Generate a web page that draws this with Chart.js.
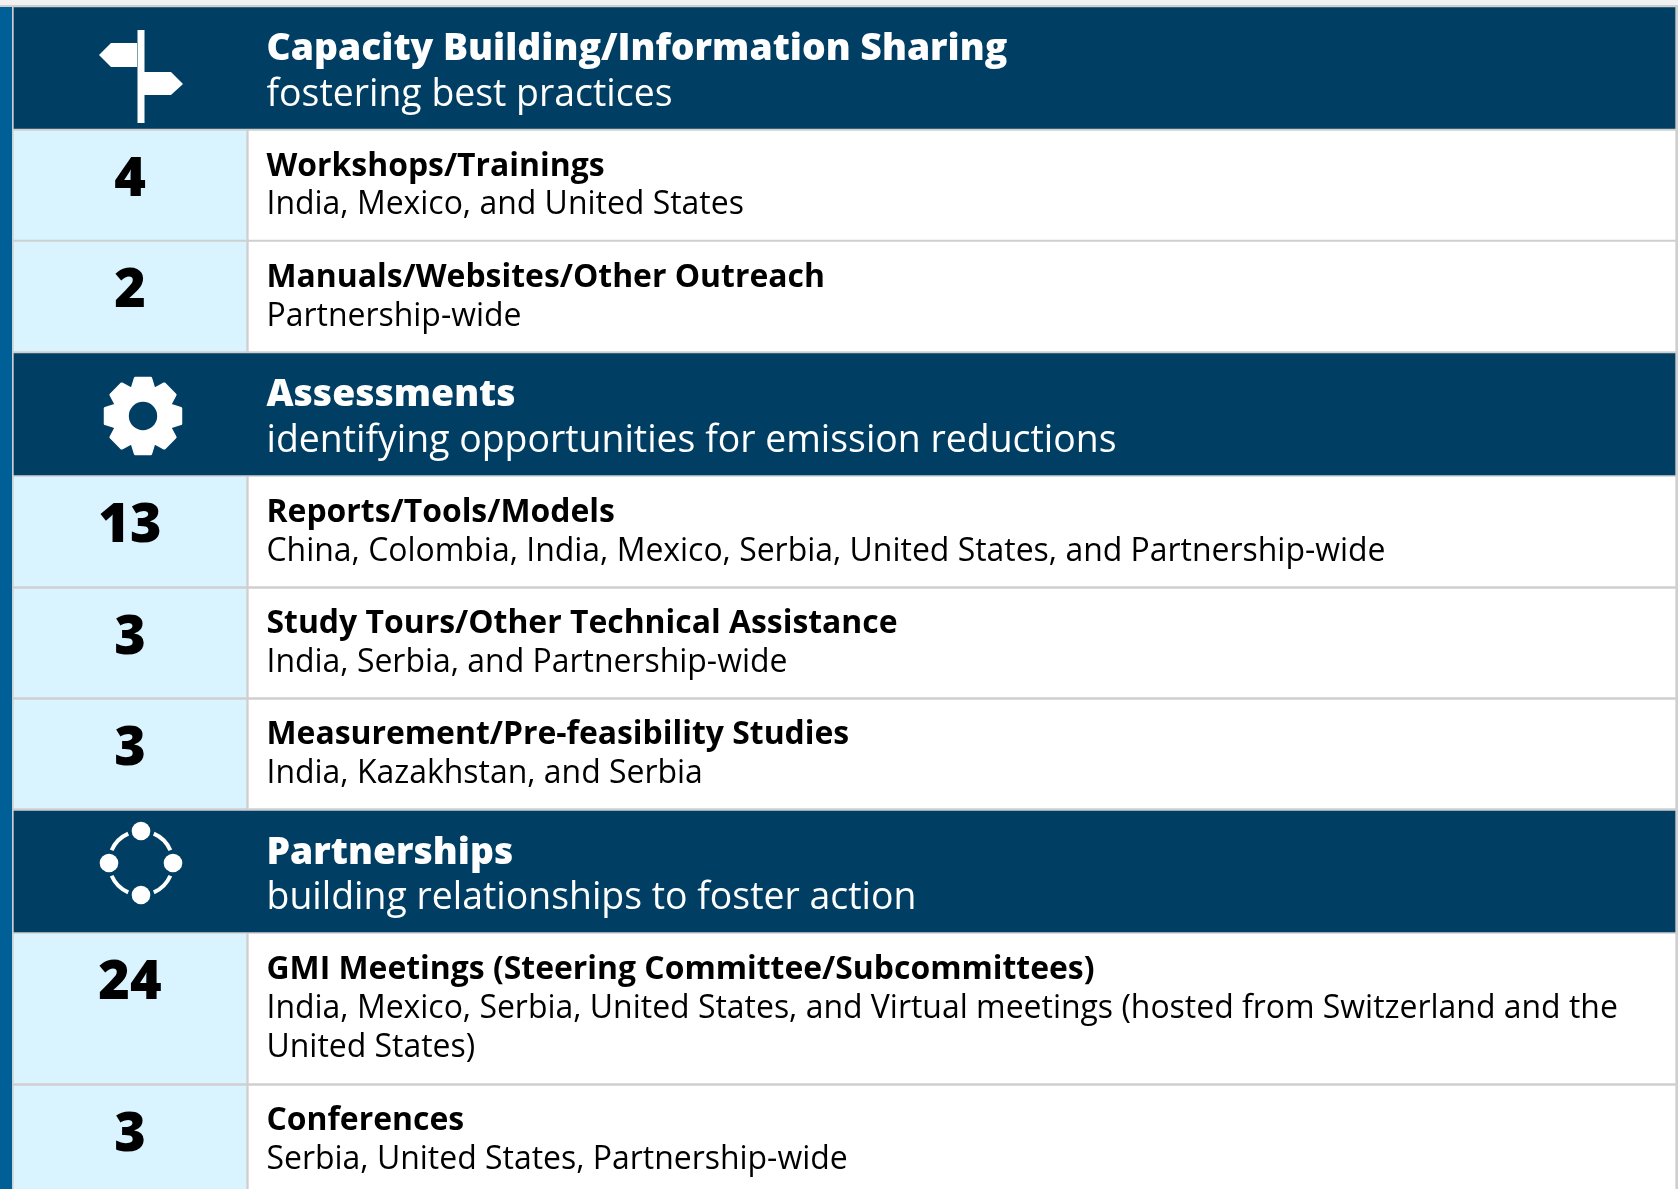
<!DOCTYPE html>
<html>
<head>
<meta charset="utf-8">
<script src="https://cdn.jsdelivr.net/npm/chart.js@4"></script>
<style>
html, body { margin: 0; padding: 0; background: #fff; }
#wrap { position: absolute; left: 0; top: 0; width: 1678px; height: 1189px; }
</style>
</head>
<body>
<div id="wrap"><canvas id="table"></canvas></div>
<script>
// row tops and bottoms in picture pixels, the y axis runs 0..1189
var rowKinds = ['head', 'row', 'row', 'head', 'row', 'row', 'row', 'head', 'row', 'row'];
var rowTops = [7.5, 131, 242, 353.5, 477, 589, 700, 811, 934, 1086];
var rowBottoms = [128.5, 239.5, 351, 475, 586, 697, 808, 932, 1083, 1189];
var counts = ['', '4', '2', '', '13', '3', '3', '', '24', '3'];
var titles = [
    'Capacity Building/Information Sharing',
    'Workshops/Trainings',
    'Manuals/Websites/Other Outreach',
    'Assessments',
    'Reports/Tools/Models',
    'Study Tours/Other Technical Assistance',
    'Measurement/Pre-feasibility Studies',
    'Partnerships',
    'GMI Meetings (Steering Committee/Subcommittees)',
    'Conferences'
];
var details = [
    ['fostering best practices'],
    ['India, Mexico, and United States'],
    ['Partnership-wide'],
    ['identifying opportunities for emission reductions'],
    ['China, Colombia, India, Mexico, Serbia, United States, and Partnership-wide'],
    ['India, Serbia, and Partnership-wide'],
    ['India, Kazakhstan, and Serbia'],
    ['building relationships to foster action'],
    ['India, Mexico, Serbia, United States, and Virtual meetings (hosted from Switzerland and the', 'United States)'],
    ['Serbia, United States, Partnership-wide']
];

var NAVY = '#003f63';
var PALE = '#d9f3ff';
var EDGE = '#cfcfcf';
var SIDE = '#005f96';
var FONT = '"Open Sans"';

function barsFor(kind, x0, x1) {
    var out = [];
    rowKinds.forEach(function(k, i) {
        if (k === kind) {
            out.push({ x: [x0, x1], y: (rowTops[i] + rowBottoms[i]) / 2 });
        }
    });
    return out;
}

// Bars are floating on a linear y axis, each one as tall as its row
var rowBars = {
    id: 'rowBars',
    beforeDatasetsDraw: function(chart) {
        var y = chart.scales.y;
        chart.data.datasets.forEach(function(ds, d) {
            chart.getDatasetMeta(d).data.forEach(function(el, n) {
                var i = ds.rowIndex[n];
                var top = y.getPixelForValue(rowTops[i]);
                var bottom = y.getPixelForValue(rowBottoms[i]);
                el.y = (top + bottom) / 2;
                el.height = bottom - top;
            });
        });
    }
};

function drawSign(ctx, cx, cy) {
    ctx.fillStyle = '#fff';
    ctx.fillRect(cx - 3.5, cy - 38, 7, 93);
    ctx.beginPath();
    ctx.moveTo(cx - 4, cy - 25);
    ctx.lineTo(cx - 30, cy - 25);
    ctx.lineTo(cx - 42, cy - 13);
    ctx.lineTo(cx - 30, cy - 1);
    ctx.lineTo(cx - 4, cy - 1);
    ctx.closePath();
    ctx.fill();
    ctx.beginPath();
    ctx.moveTo(cx + 3, cy + 4);
    ctx.lineTo(cx + 30, cy + 4);
    ctx.lineTo(cx + 42, cy + 16);
    ctx.lineTo(cx + 30, cy + 27);
    ctx.lineTo(cx + 3, cy + 27);
    ctx.closePath();
    ctx.fill();
}

function drawGear(ctx, cx, cy) {
    ctx.fillStyle = '#fff';
    ctx.strokeStyle = '#fff';
    ctx.lineWidth = 3;
    ctx.lineJoin = 'round';
    ctx.beginPath();
    for (var t = 0; t < 8; t++) {
        var a = t * Math.PI / 4 - Math.PI / 2;
        var steps = [[-0.39, 29], [-0.2, 38.5], [0.2, 38.5], [0.39, 29]];
        steps.forEach(function(s) {
            ctx.lineTo(cx + Math.cos(a + s[0]) * s[1], cy + Math.sin(a + s[0]) * s[1]);
        });
    }
    ctx.closePath();
    ctx.fill();
    ctx.stroke();
    ctx.fillStyle = NAVY;
    ctx.beginPath();
    ctx.arc(cx, cy, 14.2, 0, Math.PI * 2);
    ctx.fill();
}

function drawRing(ctx, cx, cy) {
    var r = 32;
    ctx.strokeStyle = '#fff';
    ctx.lineWidth = 4;
    ctx.fillStyle = '#fff';
    for (var t = 0; t < 4; t++) {
        var a = t * Math.PI / 2;
        ctx.beginPath();
        ctx.arc(cx, cy, r, a + 0.41, a + Math.PI / 2 - 0.41);
        ctx.stroke();
        ctx.beginPath();
        ctx.arc(cx + Math.cos(a) * r, cy + Math.sin(a) * r, 9.3, 0, Math.PI * 2);
        ctx.fill();
    }
}

var rowText = {
    id: 'rowText',
    afterDatasetsDraw: function(chart) {
        var ctx = chart.ctx;
        var x = chart.scales.x;
        var y = chart.scales.y;
        var textX = x.getPixelForValue(266.5);
        var midX = x.getPixelForValue(130);
        var icons = [
            { draw: drawSign, x: 141, dy: 60.5 },
            { draw: drawGear, x: 143, dy: 62.5 },
            { draw: drawRing, x: 141, dy: 52 }
        ];
        var nextIcon = 0;
        // the taller gap rows sit one pixel lower in the picture
        var lowered = { 1: 1, 2: 1, 4: 1, 8: 1 };

        ctx.save();
        ctx.textBaseline = 'alphabetic';
        rowKinds.forEach(function(kind, i) {
            var top = y.getPixelForValue(rowTops[i]);
            if (kind === 'head') {
                ctx.textAlign = 'left';
                ctx.fillStyle = '#fff';
                ctx.font = '800 37.3px ' + FONT;
                ctx.fillText(titles[i], textX, Math.round(top + 52.5));
                ctx.font = '400 37.4px ' + FONT;
                ctx.fillText(details[i][0], textX, Math.round(top + 98));
                var icon = icons[nextIcon];
                icon.draw(ctx, x.getPixelForValue(icon.x), top + icon.dy);
                nextIcon++;
            } else {
                var shift = lowered[i] || 0;
                ctx.textAlign = 'center';
                ctx.fillStyle = '#000';
                ctx.font = '800 54px ' + FONT;
                ctx.fillText(counts[i], midX, top + 65);
                ctx.textAlign = 'left';
                ctx.font = '700 31.9px ' + FONT;
                ctx.fillText(titles[i], textX, Math.round(top + 44.4) + shift);
                ctx.font = '400 31.95px ' + FONT;
                details[i].forEach(function(line, n) {
                    ctx.fillText(line, textX, Math.round(top + 83 + n * 39) + (i === 1 ? 0 : shift));
                });
            }
        });
        ctx.restore();
    }
};

function dataset(kind, x0, x1, color) {
    var idx = [];
    rowKinds.forEach(function(k, i) {
        if (k === kind) { idx.push(i); }
    });
    return {
        data: barsFor(kind, x0, x1),
        rowIndex: idx,
        backgroundColor: color,
        borderWidth: 0,
        borderSkipped: false
    };
}

var cellSets = [
    dataset('head', 14, 1675, NAVY),
    dataset('row', 14, 246, PALE),
    dataset('row', 249, 1675, '#ffffff')
];

new Chart(document.getElementById('table'), {
    type: 'bar',
    data: { datasets: cellSets },
    plugins: [rowBars, rowText, {
        id: 'backdrop',
        beforeDraw: function(chart) {
            var ctx = chart.ctx;
            var x = chart.scales.x;
            var y = chart.scales.y;
            ctx.save();
            ctx.fillStyle = EDGE;
            ctx.fillRect(0, 0, 1678, 1189);
            ctx.fillStyle = SIDE;
            ctx.fillRect(0, y.getPixelForValue(7), x.getPixelForValue(12), 1189);
            ctx.fillStyle = '#f1f1f1';
            ctx.fillRect(0, 0, 1678, y.getPixelForValue(5));
            ctx.restore();
        }
    }],
    options: {
        indexAxis: 'y',
        responsive: true,
        maintainAspectRatio: false,
        animation: false,
        parsing: { xAxisKey: 'x', yAxisKey: 'y' },
        layout: { padding: 0 },
        datasets: { bar: { grouped: false, barThickness: 100 } },
        plugins: { legend: { display: false }, tooltip: { enabled: false } },
        scales: {
            x: { type: 'linear', min: 0, max: 1678, display: false },
            y: { type: 'linear', min: 0, max: 1189, reverse: true, offset: false, display: false }
        }
    }
});
</script>
</body>
</html>
